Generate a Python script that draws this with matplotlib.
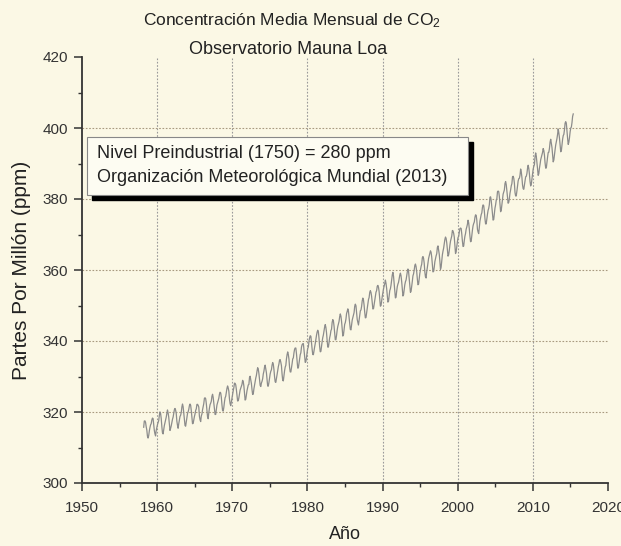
import numpy as np
import matplotlib
matplotlib.use("Agg")
import matplotlib.pyplot as plt
from matplotlib.patches import Rectangle
from matplotlib.ticker import MultipleLocator

plt.rcParams['font.family'] = ['Liberation Sans', 'DejaVu Sans']
plt.rcParams['mathtext.fontset'] = 'custom'
plt.rcParams['mathtext.rm'] = 'Liberation Sans'
plt.rcParams['mathtext.it'] = 'Liberation Sans'

# Concentración media mensual de CO2 (ppm), Mauna Loa, de marzo 1958 a mayo 2015
first_year = 1958
first_month = 3
monthly_by_year = """
315.71 317.45 317.50 317.10 315.86 314.93 313.20 312.66 313.33 314.67
315.62 316.38 316.71 317.72 318.29 318.15 316.54 314.80 313.84 313.26 314.80 315.58
316.43 316.97 317.58 319.02 320.03 319.59 318.18 315.91 314.16 313.83 315.00 316.19
316.93 317.70 318.54 319.48 320.58 319.77 318.57 316.79 314.80 315.38 316.10 317.01
317.94 318.56 319.68 320.63 321.01 320.55 319.58 317.40 316.26 315.42 316.69 317.69
318.74 319.08 319.86 321.39 322.25 321.47 319.74 317.77 316.21 315.99 317.12 318.31
319.57 320.07 320.73 321.77 322.25 321.89 320.44 318.70 316.70 316.79 317.79 318.71
319.44 320.44 320.89 322.13 322.16 321.87 321.39 318.81 317.81 317.30 318.87 319.42
320.62 321.59 322.39 323.87 324.01 323.75 322.39 320.37 318.64 318.10 319.79 321.08
322.07 322.50 323.04 324.42 325.00 324.09 322.55 320.92 319.31 319.31 320.72 321.96
322.57 323.15 323.89 325.02 325.57 325.36 324.14 322.03 320.41 320.25 321.31 322.84
324.00 324.42 325.64 326.66 327.34 326.76 325.88 323.67 322.38 321.78 322.85 324.11
325.03 325.99 326.87 328.13 328.07 327.66 326.35 324.69 323.10 323.16 323.98 325.13
326.17 326.68 327.18 327.78 328.92 328.57 327.34 325.46 323.36 323.57 324.80 326.01
326.77 327.63 327.75 329.72 330.07 329.09 328.05 326.32 324.93 325.06 326.50 327.55
328.54 329.56 330.30 331.50 332.48 332.07 330.87 329.31 327.51 327.18 328.16 328.64
329.35 330.71 331.48 332.65 333.20 332.16 331.07 329.12 327.32 327.28 328.30 329.58
330.73 331.46 331.90 333.17 333.94 333.45 331.97 329.95 328.50 328.34 329.37 330.58
331.59 332.75 333.52 334.64 334.77 334.00 333.06 330.68 328.95 328.75 330.15 331.62
332.66 333.13 334.95 336.13 336.93 336.17 334.88 332.56 331.29 331.27 332.41 333.60
334.95 335.25 336.66 337.69 338.03 338.01 336.41 334.41 332.37 332.41 333.75 334.90
336.14 336.69 338.27 338.96 339.21 339.26 337.54 335.75 333.98 334.19 335.31 336.81
337.90 338.34 340.01 340.93 341.48 341.33 339.40 337.70 336.19 336.15 337.27 338.32
339.29 340.55 341.61 342.53 343.03 342.54 340.78 338.44 336.95 337.08 338.58 339.88
340.96 341.73 342.81 343.97 344.63 343.79 342.32 340.09 338.28 338.29 339.60 340.90
341.68 342.90 343.33 345.25 346.03 345.63 344.19 342.27 340.35 340.38 341.59 343.05
344.10 344.79 345.52 346.84 347.63 346.98 345.53 343.55 341.40 341.67 343.10 344.70
345.21 346.16 347.74 348.33 349.06 348.38 346.72 345.02 343.27 343.13 344.49 345.88
346.56 347.28 348.01 349.77 350.38 349.93 348.16 346.08 345.22 344.51 345.93 347.22
348.52 348.73 349.73 351.31 352.09 351.53 350.11 348.08 346.52 346.59 347.96 349.16
350.38 351.68 352.24 353.66 354.18 353.68 352.58 350.66 349.03 349.08 350.15 351.41
352.68 353.76 354.19 355.42 355.67 355.13 353.90 351.67 349.80 349.99 351.30 352.53
353.66 354.70 355.39 356.20 357.16 356.22 354.82 352.91 350.96 351.18 352.83 354.21
354.72 355.75 357.16 358.60 359.34 358.24 356.17 353.85 352.13 352.32 353.98 355.33
356.04 356.52 357.57 358.56 359.12 358.34 356.76 354.64 352.68 353.04 354.41 355.84
356.70 357.16 358.38 359.46 360.28 359.60 357.57 355.52 353.70 353.98 355.33 356.80
358.36 358.91 359.97 361.26 361.68 360.95 359.55 357.49 355.84 356.00 357.58 359.04
359.97 361.00 361.64 363.45 363.79 363.26 361.90 359.46 358.06 357.75 359.56 360.70
362.05 363.25 364.03 364.72 365.41 364.97 363.65 361.49 359.46 359.60 360.76 362.33
363.18 364.00 364.57 366.35 366.79 365.62 364.47 362.51 360.19 360.77 362.43 364.28
365.32 366.15 367.31 368.61 369.29 368.87 367.64 365.77 363.90 364.23 365.46 366.97
368.15 368.87 369.59 371.14 371.00 370.35 369.27 366.94 364.63 365.12 366.67 368.01
369.14 369.46 370.52 371.66 371.82 371.70 370.12 368.12 366.62 366.73 368.29 369.53
370.28 371.50 372.12 372.87 374.02 373.30 371.62 369.55 367.96 368.09 369.68 371.24
372.44 373.08 373.52 374.85 375.55 375.40 374.02 371.48 370.71 370.25 372.08 373.78
374.68 375.62 376.11 377.65 378.35 378.13 376.61 374.48 372.98 373.00 374.35 375.69
376.79 377.36 378.39 380.50 380.62 379.55 377.76 375.83 374.05 374.22 375.84 377.44
378.34 379.61 380.08 382.05 382.24 382.08 380.67 378.67 376.42 376.80 378.31 379.96
381.37 382.02 382.56 384.37 384.92 384.03 382.28 380.48 378.81 379.06 380.14 381.66
382.58 383.71 384.34 386.23 386.41 385.87 384.45 381.84 380.86 380.86 382.36 383.61
385.07 385.72 385.85 386.71 388.45 387.64 386.10 383.95 382.91 382.73 383.96 385.02
386.26 386.39 387.16 388.67 389.51 388.63 387.07 384.96 383.69 384.17 385.59 387.01
388.41 389.20 389.68 392.00 392.98 392.05 390.21 388.29 386.67 387.10 388.68 389.76
391.05 391.78 392.55 393.14 394.21 393.66 392.38 390.17 388.68 388.75 390.41 391.79
393.09 393.16 394.25 396.00 396.83 395.72 394.55 392.45 390.46 390.99 392.51 393.88
395.22 396.10 397.04 398.24 399.73 398.60 397.17 395.15 393.31 393.57 395.19 396.83
397.86 398.21 399.55 401.38 401.78 401.25 399.10 397.03 395.38 396.03 397.28 398.91
399.98 400.28 401.54 403.28 403.96
"""

co2 = np.array([float(v) for v in monthly_by_year.split()])
# fecha decimal de cada mes (mitad del mes)
month_index = np.arange(len(co2)) + (first_month - 1)
years = first_year + month_index / 12.0 + 1 / 24.0

x_ticks = [1950, 1960, 1970, 1980, 1990, 2000, 2010, 2020]
y_ticks = [300, 320, 340, 360, 380, 400, 420]

title_1 = "Concentración Media Mensual de CO$_2$"
title_2 = "Observatorio Mauna Loa"
note_1 = "Nivel Preindustrial (1750) = 280 ppm"
note_2 = "Organización Meteorológica Mundial (2013)"

bg = '#fbf8e5'
W, H = 621, 546
fig = plt.figure(figsize=(W / 100, H / 100), dpi=100, facecolor=bg)
ax = fig.add_axes([82 / W, 63 / H, 526 / W, 426 / H], facecolor=bg)

ax.plot(years, co2, color='#8c8c8c', lw=0.9, zorder=3)

ax.set_xlim(1950, 2020)
ax.set_ylim(300, 420)
ax.set_xticks(x_ticks)
ax.set_yticks(y_ticks)
ax.xaxis.set_minor_locator(MultipleLocator(5))
ax.yaxis.set_minor_locator(MultipleLocator(10))

for v in x_ticks[1:-1]:
    ax.axvline(v, color='#9a9a9a', lw=0.8, ls=(0, (1.5, 1.5)), zorder=1)
for v in y_ticks[1:-1]:
    ax.axhline(v, color='#a89a80', lw=0.8, ls=(0, (1.5, 1.5)), zorder=1)

for s in ['top', 'right']:
    ax.spines[s].set_visible(False)
for s in ['left', 'bottom']:
    ax.spines[s].set_color('#333333')
    ax.spines[s].set_linewidth(1.3)

ax.tick_params(which='major', direction='out', length=6, width=1.1,
               color='#333333', labelsize=11, labelcolor='#333333')
ax.tick_params(which='minor', direction='out', length=3, width=1.0, color='#333333')
ax.tick_params(axis='x', which='major', pad=7)
ax.tick_params(axis='y', which='major', pad=4)

ax.set_xlabel("Año", fontsize=13, color='#222222', labelpad=8)
ax.set_ylabel("Partes Por Millón (ppm)", fontsize=15, color='#222222', labelpad=8)

fig.text(292 / W, 1 - 21 / H, title_1, ha='center', va='center', fontsize=12.5, color='#222222')
fig.text(288 / W, 1 - 50 / H, title_2, ha='center', va='center', fontsize=13, color='#222222')

# cuadro de texto con sombra
bx, by, bw, bh = 87, 137, 381, 58
shadow = Rectangle(((bx + 5) / W, 1 - (by + bh + 5) / H), bw / W, bh / H,
                   transform=fig.transFigure, facecolor='black', edgecolor='black', zorder=5)
box = Rectangle((bx / W, 1 - (by + bh) / H), bw / W, bh / H,
                transform=fig.transFigure, facecolor='#fdfcf2', edgecolor='#888888',
                lw=0.8, zorder=6)
fig.patches.extend([shadow, box])
fig.text(97 / W, 1 - 154 / H, note_1, ha='left', va='center', fontsize=13, color='#222222', zorder=7)
fig.text(97 / W, 1 - 177 / H, note_2, ha='left', va='center', fontsize=13, color='#222222', zorder=7)

fig.savefig("out.png", dpi=100, facecolor=bg)
